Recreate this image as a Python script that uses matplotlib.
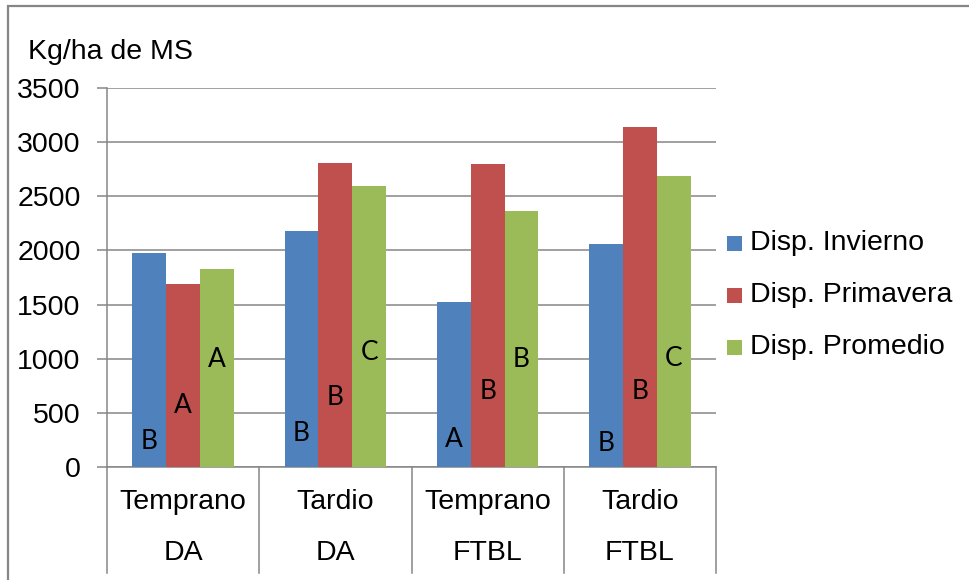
import matplotlib
matplotlib.use('Agg')
import matplotlib.pyplot as plt
import matplotlib.transforms as mtransforms
from matplotlib.patches import Rectangle

# Datos: disponibilidad de forraje por tratamiento
epocas = ['Temprano', 'Tardio', 'Temprano', 'Tardio']
sitios = ['DA', 'DA', 'FTBL', 'FTBL']
series = ['Disp. Invierno', 'Disp. Primavera', 'Disp. Promedio']
invierno = [1975, 2176, 1524, 2058]
primavera = [1691, 2806, 2796, 3139]
promedio = [1833, 2593, 2367, 2688]

# letras de significancia y altura donde van escritas
letras_inv = ['B', 'B', 'A', 'B']
letras_pri = ['A', 'B', 'B', 'B']
letras_pro = ['A', 'C', 'B', 'C']
altura_inv = [237, 305, 253, 213]
altura_pri = [567, 639, 694, 694]
altura_pro = [993, 1055, 993, 1000]

colores = ['#4F81BD', '#C0504D', '#9BBB59']
gris = '#868686'

W, H = 969, 580
plt.rcParams['font.family'] = ['Liberation Sans', 'DejaVu Sans']

fig = plt.figure(figsize=(W / 100, H / 100), dpi=100)
ax = fig.add_axes([107 / W, 1 - 467 / H, (716 - 107) / W, (467 - 88) / H])

# marco exterior
fig.patches.append(Rectangle((8 / W, -0.05), 1.1, 1 - 6 / H + 0.05,
                             transform=fig.transFigure, fill=False,
                             edgecolor=gris, linewidth=1.6))

ancho = 1 / 4.5
centros = [i + 0.5 for i in range(len(epocas))]
valores = [invierno, primavera, promedio]
letras = [letras_inv, letras_pri, letras_pro]
alturas = [altura_inv, altura_pri, altura_pro]

for k, (vals, col) in enumerate(zip(valores, colores)):
    xs = [c + (k - 1) * ancho for c in centros]
    ax.bar(xs, vals, width=ancho, color=col, zorder=3)
    for x, letra, y in zip(xs, letras[k], alturas[k]):
        ax.text(x, y, letra, ha='center', va='center', fontsize=19,
                family=['Lato', 'DejaVu Sans'], zorder=4)

ax.set_xlim(0, 4)
ax.set_ylim(0, 3500)
ax.set_yticks(range(0, 3501, 500))
ax.yaxis.grid(True, color=gris, linewidth=1.1, zorder=0)
ax.set_xticks([])
ax.tick_params(axis='y', length=7, width=1.1, color=gris, pad=12,
               labelsize=20.5)
for lado in ['top', 'right']:
    ax.spines[lado].set_visible(False)
ax.spines['left'].set_color(gris)
ax.spines['left'].set_linewidth(1.1)
ax.spines['bottom'].set_color(gris)
ax.spines['bottom'].set_linewidth(1.1)

# eje de categorías en dos niveles
trans = mtransforms.blended_transform_factory(ax.transData, ax.transAxes)
alto = 379.0
for x in range(len(epocas) + 1):
    ax.plot([x, x], [0, -(573 - 467) / alto], color=gris, linewidth=1.1,
            transform=trans, clip_on=False)
for c, e, s in zip(centros, epocas, sitios):
    ax.text(c, -(502 - 467) / alto, e, transform=trans, ha='center',
            va='center', fontsize=20.5)
    ax.text(c, -(553 - 467) / alto, s, transform=trans, ha='center',
            va='center', fontsize=20.5)

fig.text(28 / W, 1 - 52 / H, 'Kg/ha de MS', ha='left', va='center',
         fontsize=20.5)

# leyenda
filas_y = [243, 295, 347]
for nombre, col, y in zip(series, colores, filas_y):
    fig.patches.append(Rectangle((727 / W, 1 - (y + 7.5) / H), 15 / W, 15 / H,
                                 transform=fig.transFigure, facecolor=col,
                                 edgecolor='none'))
    fig.text(750 / W, 1 - y / H, nombre, ha='left', va='center',
             fontsize=20.5)

fig.savefig('out.png', dpi=100)
